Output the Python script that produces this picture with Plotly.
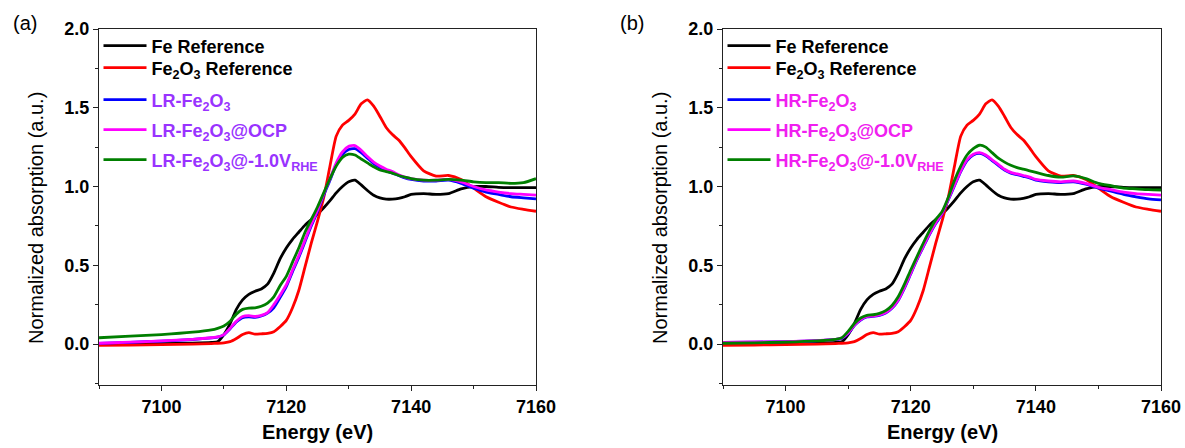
import plotly.graph_objects as go

# ---------------- data ----------------
energy = [7090, 7095, 7100, 7105, 7108, 7109, 7110, 7111, 7112, 7113, 7114, 7115,
          7116, 7117, 7118, 7119, 7120, 7121, 7122, 7123, 7124, 7125, 7126, 7127,
          7128, 7129, 7130, 7131, 7132, 7133, 7134, 7135, 7136, 7137, 7138, 7139,
          7140, 7142, 7144, 7146, 7148, 7150, 7152, 7154, 7156, 7158, 7160]

fe_ref = [0.0, 0.0, 0.003, 0.006, 0.01, 0.015, 0.06, 0.13, 0.22, 0.28, 0.315, 0.335,
          0.35, 0.38, 0.45, 0.54, 0.61, 0.665, 0.71, 0.755, 0.79, 0.825, 0.865, 0.91,
          0.96, 1.0, 1.03, 1.04, 1.01, 0.975, 0.945, 0.928, 0.92, 0.92, 0.925, 0.935,
          0.95, 0.955, 0.95, 0.955, 0.985, 1.0, 1.0, 0.995, 0.993, 0.993, 0.993]

fe2o3_ref = [-0.008, -0.006, -0.004, 0.0, 0.003, 0.005, 0.008, 0.015, 0.035, 0.06, 0.072, 0.063,
             0.065, 0.068, 0.078, 0.11, 0.15, 0.23, 0.34, 0.49, 0.64, 0.78, 0.93, 1.13,
             1.32, 1.39, 1.42, 1.46, 1.525, 1.55, 1.51, 1.445, 1.375, 1.33, 1.295, 1.245,
             1.19, 1.1, 1.066, 1.07, 1.045, 0.99, 0.935, 0.9, 0.87, 0.855, 0.843]

lr_fe2o3 = [0.004, 0.011, 0.019, 0.029, 0.039, 0.044, 0.058, 0.097, 0.14, 0.168, 0.172, 0.17,
            0.178, 0.196, 0.23, 0.295, 0.365, 0.46, 0.55, 0.65, 0.75, 0.84, 0.945, 1.04,
            1.14, 1.205, 1.235, 1.24, 1.215, 1.18, 1.145, 1.12, 1.1, 1.085, 1.07, 1.055,
            1.045, 1.035, 1.035, 1.04, 1.02, 0.99, 0.965, 0.95, 0.935, 0.928, 0.922]

lr_ocp = [0.005, 0.012, 0.02, 0.03, 0.04, 0.045, 0.06, 0.1, 0.145, 0.175, 0.18, 0.175,
          0.182, 0.2, 0.25, 0.31, 0.375, 0.47, 0.56, 0.66, 0.76, 0.85, 0.955, 1.05,
          1.15, 1.22, 1.255, 1.26, 1.23, 1.19, 1.155, 1.13, 1.11, 1.095, 1.075, 1.06,
          1.05, 1.04, 1.04, 1.045, 1.03, 1.0, 0.978, 0.965, 0.955, 0.95, 0.945]

lr_m1v = [0.04, 0.05, 0.06, 0.075, 0.09, 0.1, 0.115, 0.145, 0.19, 0.22, 0.228, 0.23,
          0.24, 0.26, 0.3, 0.37, 0.43, 0.52, 0.61, 0.71, 0.79, 0.87, 0.96, 1.05,
          1.13, 1.185, 1.205, 1.2, 1.175, 1.15, 1.125, 1.105, 1.095, 1.085, 1.07, 1.06,
          1.05, 1.04, 1.04, 1.045, 1.04, 1.03, 1.025, 1.025, 1.02, 1.025, 1.05]

hr_fe2o3 = [0.01, 0.012, 0.015, 0.021, 0.029, 0.036, 0.067, 0.117, 0.152, 0.172, 0.175, 0.182,
            0.197, 0.227, 0.277, 0.355, 0.445, 0.535, 0.615, 0.695, 0.765, 0.825, 0.915, 1.005,
            1.095, 1.165, 1.2, 1.21, 1.195, 1.165, 1.135, 1.105, 1.085, 1.075, 1.065, 1.055,
            1.04, 1.03, 1.025, 1.03, 1.015, 0.99, 0.97, 0.95, 0.935, 0.922, 0.915]

hr_ocp = [0.01, 0.013, 0.015, 0.022, 0.03, 0.038, 0.07, 0.12, 0.155, 0.175, 0.178, 0.185,
          0.2, 0.23, 0.28, 0.36, 0.45, 0.54, 0.62, 0.7, 0.77, 0.83, 0.92, 1.01,
          1.1, 1.17, 1.205, 1.215, 1.2, 1.17, 1.14, 1.11, 1.09, 1.08, 1.07, 1.06,
          1.045, 1.035, 1.03, 1.035, 1.02, 0.995, 0.98, 0.965, 0.955, 0.95, 0.946]

hr_m1v = [0.005, 0.008, 0.012, 0.02, 0.03, 0.04, 0.08, 0.13, 0.165, 0.182, 0.186, 0.195,
          0.212, 0.245, 0.3, 0.38, 0.47, 0.555, 0.64, 0.72, 0.79, 0.84, 0.93, 1.04,
          1.13, 1.2, 1.24, 1.262, 1.25, 1.215, 1.18, 1.155, 1.135, 1.12, 1.11, 1.1,
          1.09, 1.07, 1.06, 1.067, 1.05, 1.02, 1.005, 0.99, 0.985, 0.98, 0.978]

x_ticks = [7100, 7120, 7140, 7160]
y_ticks = [0.0, 0.5, 1.0, 1.5, 2.0]
y_tick_text = ["0.0", "0.5", "1.0", "1.5", "2.0"]

colors = ["#000000", "#FF0000", "#0000FF", "#FF00FF", "#007F00"]
purple = "#9933FF"
pink = "#F020F0"

names_a = [
    "Fe Reference",
    "Fe<sub>2</sub>O<sub>3</sub> Reference",
    f"<span style='color:{purple}'>LR-Fe<sub>2</sub>O<sub>3</sub></span>",
    f"<span style='color:{purple}'>LR-Fe<sub>2</sub>O<sub>3</sub>@OCP</span>",
    f"<span style='color:{purple}'>LR-Fe<sub>2</sub>O<sub>3</sub>@-1.0V<sub>RHE</sub></span>",
]
names_b = [
    "Fe Reference",
    "Fe<sub>2</sub>O<sub>3</sub> Reference",
    f"<span style='color:{pink}'>HR-Fe<sub>2</sub>O<sub>3</sub></span>",
    f"<span style='color:{pink}'>HR-Fe<sub>2</sub>O<sub>3</sub>@OCP</span>",
    f"<span style='color:{pink}'>HR-Fe<sub>2</sub>O<sub>3</sub>@-1.0V<sub>RHE</sub></span>",
]

series_a = [fe_ref, fe2o3_ref, lr_fe2o3, lr_ocp, lr_m1v]
series_b = [fe_ref, fe2o3_ref, hr_fe2o3, hr_ocp, hr_m1v]

FONT = "Arial, Liberation Sans, sans-serif"
W, H = 1185, 448
dom_xa = [99 / W, 536 / W]
dom_xb = [723 / W, 1161 / W]
dom_y = [1 - 385 / H, 1 - 29 / H]

# legend row centres (pixels from top) in the reference
legend_rows = [46, 68, 100, 130, 160]

fig = go.Figure()
legend_layouts = {}
k = 0
for panel, (series, names, xa, ya, x0) in enumerate([
        (series_a, names_a, "x", "y", 98.5),
        (series_b, names_b, "x2", "y2", 722.5)]):
    for ys, nm, c, row in zip(series, names, colors, legend_rows):
        k += 1
        lname = "legend" if k == 1 else f"legend{k}"
        fig.add_trace(go.Scatter(x=energy, y=ys, name=nm, mode="lines",
                                 line=dict(color=c, width=2.8, shape="spline", smoothing=0.6),
                                 xaxis=xa, yaxis=ya, legend=lname))
        legend_layouts[lname] = dict(
            x=x0 / W, y=1 - row / H, xanchor="left", yanchor="middle",
            bgcolor="rgba(0,0,0,0)", borderwidth=0, itemwidth=43,
            font=dict(family=FONT, size=18, color="black", weight="bold"))

xcommon = dict(range=[7090, 7160], tickmode="array", tickvals=x_ticks, automargin=False,
               ticks="outside", ticklen=5, tickwidth=1.3, tickcolor="#222",
               showline=True, linecolor="#222", linewidth=1.3, mirror=True,
               showgrid=False, zeroline=False,
               tickfont=dict(family=FONT, size=18, color="black", weight="bold"),
               minor=dict(dtick=10, tick0=7090, ticks="outside", ticklen=3,
                          tickwidth=1.3, tickcolor="#222", showgrid=False))
ycommon = dict(range=[-0.26, 2.0], tickmode="array", tickvals=y_ticks, ticktext=y_tick_text,
               automargin=False,
               ticks="outside", ticklen=5, tickwidth=1.3, tickcolor="#222",
               showline=True, linecolor="#222", linewidth=1.3, mirror=True,
               showgrid=False, zeroline=False,
               tickfont=dict(family=FONT, size=18, color="black", weight="bold"),
               minor=dict(dtick=0.25, tick0=0, ticks="outside", ticklen=3,
                          tickwidth=1.3, tickcolor="#222", showgrid=False))

fig.update_layout(
    template="none",
    width=W, height=H, autosize=False,
    margin=dict(l=0, r=0, t=0, b=0, pad=0),
    paper_bgcolor="white", plot_bgcolor="white",
    xaxis=dict(domain=dom_xa, anchor="y", **xcommon),
    yaxis=dict(domain=dom_y, anchor="x", **ycommon),
    xaxis2=dict(domain=dom_xb, anchor="y2", **xcommon),
    yaxis2=dict(domain=dom_y, anchor="x2", **ycommon),
    showlegend=True,
    **legend_layouts,
)

ann = []
for xc in [(dom_xa[0] + dom_xa[1]) / 2, (dom_xb[0] + dom_xb[1]) / 2]:
    ann.append(dict(text="<b>Energy (eV)</b>", x=xc, y=1 - 432 / H, xref="paper", yref="paper",
                    showarrow=False, xanchor="center", yanchor="middle",
                    font=dict(family=FONT, size=20, color="black")))
for xc in [36 / W, 660 / W]:
    ann.append(dict(text="Normalized absorption (a.u.)", x=xc, y=1 - 218 / H,
                    xref="paper", yref="paper", showarrow=False, textangle=-90,
                    xanchor="center", yanchor="middle",
                    font=dict(family=FONT, size=20, color="black")))
for xc, lab in [(24.5 / W, "(a)"), (632 / W, "(b)")]:
    ann.append(dict(text=lab, x=xc, y=1 - 23 / H, xref="paper", yref="paper",
                    showarrow=False, xanchor="center", yanchor="middle",
                    font=dict(family=FONT, size=20, color="black")))
fig.update_layout(annotations=ann)

fig.write_html("out.html")
